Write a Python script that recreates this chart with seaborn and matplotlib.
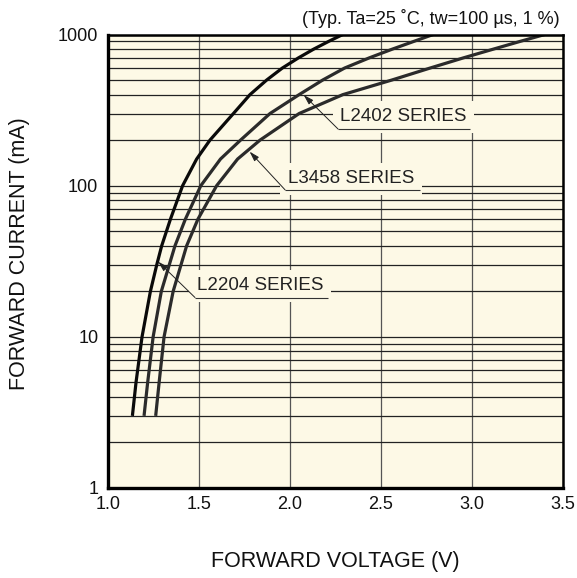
import matplotlib
matplotlib.use("Agg")
import matplotlib.pyplot as plt
import seaborn as sns
import pandas as pd
import numpy as np

# ---------------- data ----------------
series_names = ["L2204 SERIES", "L2402 SERIES", "L3458 SERIES"]

l2204_v = [1.134, 1.154, 1.187, 1.233, 1.268, 1.295, 1.343, 1.410, 1.487,
           1.560, 1.689, 1.780, 1.872, 1.958, 2.046, 2.130, 2.212, 2.290]
l2204_i = [3, 5, 10, 20, 30, 40, 60, 100, 150,
           200, 300, 400, 500, 600, 700, 800, 900, 1000]

l2402_v = [1.198, 1.218, 1.248, 1.293, 1.368, 1.425, 1.510, 1.618, 1.728,
           1.890, 2.050, 2.180, 2.300, 2.435, 2.562, 2.680, 2.787]
l2402_i = [3, 5, 10, 20, 40, 60, 100, 150, 200,
           300, 400, 500, 600, 700, 800, 900, 1000]

l3458_v = [1.262, 1.281, 1.308, 1.358, 1.432, 1.494, 1.597, 1.712, 1.835,
           2.050, 2.290, 2.560, 2.770, 2.952, 3.117, 3.264, 3.400]
l3458_i = [3, 5, 10, 20, 40, 60, 100, 150, 200,
           300, 400, 500, 600, 700, 800, 900, 1000]

x_ticks = [1.0, 1.5, 2.0, 2.5, 3.0, 3.5]
x_tick_labels = ["1.0", "1.5", "2.0", "2.5", "3.0", "3.5"]
y_ticks = [1, 10, 100, 1000]
y_tick_labels = ["1", "10", "100", "1000"]

title_text = "(Typ. Ta=25 \u02daC, tw=100 \u00b5s, 1 %)"
x_label = "FORWARD VOLTAGE (V)"
y_label = "FORWARD CURRENT (mA)"

# ---------------- build table ----------------
frames = []
for name, v, i in zip(series_names, [l2204_v, l2402_v, l3458_v], [l2204_i, l2402_i, l3458_i]):
    frames.append(pd.DataFrame({"V": v, "I": i, "series": name}))
df = pd.concat(frames, ignore_index=True)

# ---------------- style ----------------
sns.set_theme(style="white")
plt.rcParams["font.family"] = ["Liberation Sans", "DejaVu Sans"]
plt.rcParams["lines.solid_joinstyle"] = "round"
plt.rcParams["lines.solid_capstyle"] = "butt"

BG = "#fdf9e6"

W, H = 577, 578
fig = plt.figure(figsize=(W / 100, H / 100), dpi=100)
fig.patch.set_facecolor("white")
ax = fig.add_axes([108 / W, (H - 488) / H, 455 / W, 453.5 / H])
ax.set_facecolor(BG)

palette = {"L2204 SERIES": "#0a0a0a", "L2402 SERIES": "#2b2b2b", "L3458 SERIES": "#2b2b2b"}
sns.lineplot(data=df, x="V", y="I", hue="series", palette=palette, sort=False,
             estimator=None, legend=False, linewidth=2.3, ax=ax, zorder=4)
for ln in ax.get_lines():
    ln.set_solid_joinstyle("round")

ax.set_yscale("log")
ax.set_xlim(1.0, 3.5)
ax.set_ylim(1, 1000)

ax.set_xticks(x_ticks)
ax.set_xticklabels(x_tick_labels)
ax.set_yticks(y_ticks)
ax.set_yticklabels(y_tick_labels)
ax.yaxis.set_minor_formatter(matplotlib.ticker.NullFormatter())
ax.tick_params(axis="both", which="both", length=0, labelsize=13, colors="#111111")
ax.tick_params(axis="x", pad=6)
ax.tick_params(axis="y", pad=7)

ax.set_axisbelow(True)
ax.grid(False)
ax.xaxis.grid(True, which="major", color="#555555", linewidth=0.9, zorder=0)
ax.yaxis.grid(True, which="both", color="#222222", linewidth=0.9, zorder=0)

for side, sp in ax.spines.items():
    sp.set_visible(True)
    sp.set_color("#000000")
    sp.set_linewidth(2.4 if side in ("left", "bottom") else 1.8)
    sp.set_zorder(6)

ax.set_xlabel("")
ax.set_ylabel("")

# ---------------- series labels with leaders ----------------
# (text-left V, text-center I, elbow V, elbow I, underline end V, tip V, tip I)
label_layout = {
    "L2402 SERIES": (2.275, 285, 2.264, 237, 2.989, 2.075, 398),
    "L3458 SERIES": (1.989, 110.7, 1.973, 93.8, 2.714, 1.778, 168),
    "L2204 SERIES": (1.489, 21.7, 1.478, 18.2, 2.209, 1.276, 31.4),
}
for name in series_names:
    tx, ty, ex, ey, ux, px, py = label_layout[name]
    ax.text(tx, ty, name, ha="left", va="center", fontsize=13.5, color="#222222",
            zorder=3, bbox=dict(boxstyle="square,pad=0.4", fc=BG, ec="none"))
    ax.plot([ex, ux], [ey, ey], color="#333333", linewidth=0.8, zorder=5)
    ax.annotate("", xy=(px, py), xytext=(ex, ey),
                arrowprops=dict(arrowstyle="-|>,head_length=0.5,head_width=0.15",
                                color="#222222", lw=0.7, shrinkA=0, shrinkB=0),
                zorder=5)

# ---------------- outside texts ----------------
fig.text(560 / W, 1 - 18 / H, title_text, ha="right", va="center", fontsize=13, color="#111111")
fig.text(335 / W, 1 - 561 / H, x_label, ha="center", va="center", fontsize=15.5, color="#111111")
fig.text(20 / W, 1 - 254 / H, y_label, ha="center", va="center", rotation=90,
         fontsize=15.5, color="#111111")

fig.savefig("out.png", dpi=100, facecolor="white")
